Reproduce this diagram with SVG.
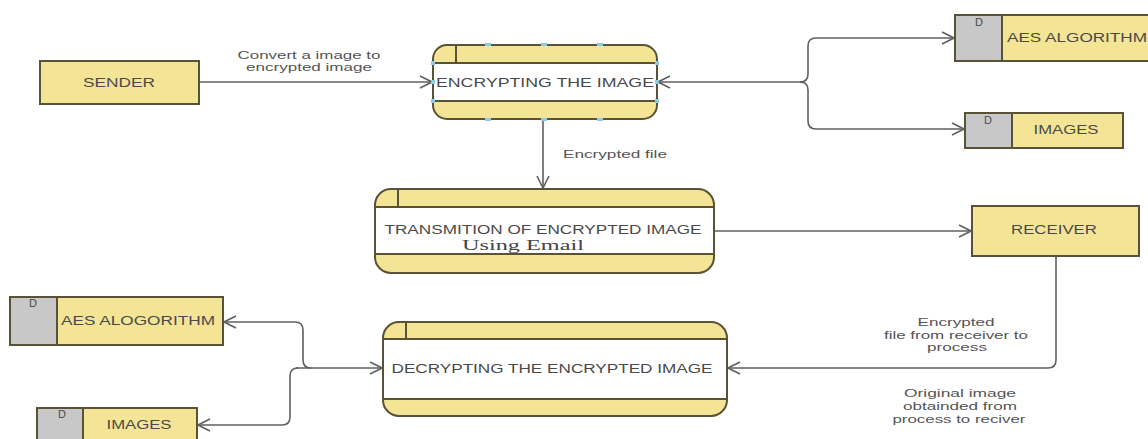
<svg xmlns="http://www.w3.org/2000/svg" width="1148" height="439" viewBox="0 0 1148 439">
<style>
.bg{fill:#ffffff}
.ent{fill:#F4E495;stroke:#5a5236;stroke-width:2}
.yel{fill:#F4E495;stroke:#5a5236;stroke-width:2}
.gry{fill:#C8C8C8;stroke:#5a5236;stroke-width:2}
.band{fill:#ffffff}
.ln{stroke:#5a5236;stroke-width:2;fill:none}
.t{font-family:"Liberation Sans",Arial,sans-serif;font-size:12px;fill:#4a4a4a;text-anchor:middle}
.lab{font-family:"Liberation Sans",Arial,sans-serif;font-size:11.5px;fill:#555555;text-anchor:middle}
.d{font-family:"Liberation Sans",Arial,sans-serif;font-size:11px;fill:#4a4a4a;text-anchor:middle}
.serif{font-family:"Liberation Serif","Times New Roman",serif;font-size:15px;fill:#444444;text-anchor:middle}
.con{stroke:#606060;stroke-width:1.6;fill:none}
.hdl{fill:#8ccbe6}
</style>
<defs>
<marker id="arr" markerUnits="userSpaceOnUse" markerWidth="14" markerHeight="14" viewBox="0 0 14 14" refX="13" refY="7" orient="auto">
<path d="M1,1 L13,7 L1,13" fill="none" stroke="#606060" stroke-width="1.6"/>
</marker>
</defs>
<rect class="bg" x="0" y="0" width="1148" height="439"/>

<g id="connectors">
<path class="con" d="M199,82 H432" marker-end="url(#arr)"/>
<path class="con" d="M543,119 V188" marker-end="url(#arr)"/>
<path class="con" d="M714,231 H971" marker-end="url(#arr)"/>
<path class="con" d="M1056,257 V360 Q1056,368 1048,368 H728" marker-start="url(#arr)" marker-end="url(#arr)"/>
<path class="con" d="M801,82 H658" marker-end="url(#arr)"/>
<path class="con" d="M800,82 Q808,82 808,74 V46 Q808,38 816,38 H954" marker-end="url(#arr)"/>
<path class="con" d="M800,82 Q808,82 808,90 V121 Q808,129 816,129 H964" marker-end="url(#arr)"/>
<path class="con" d="M296,368 H382" marker-end="url(#arr)"/>
<path class="con" d="M311,368 Q303,368 303,360 V330 Q303,322 295,322 H224" marker-end="url(#arr)"/>
<path class="con" d="M298,368 Q290,368 290,376 V417 Q290,425 282,425 H198" marker-end="url(#arr)"/>
</g>

<g id="sender">
<rect class="yel" x="40" y="61" width="159" height="43"/>
<text class="t" x="119" y="87" textLength="72" lengthAdjust="spacingAndGlyphs">SENDER</text>
</g>

<g id="label-convert">
<text class="lab" x="309" y="59" textLength="143" lengthAdjust="spacingAndGlyphs">Convert a image to</text>
<text class="lab" x="309" y="71" textLength="126" lengthAdjust="spacingAndGlyphs">encrypted image</text>
</g>

<g id="encrypting">
<rect class="ent" x="433" y="45" width="224" height="74" rx="14"/>
<rect class="band" x="434" y="63" width="222" height="38"/>
<line class="ln" x1="433" y1="63" x2="657" y2="63"/>
<line class="ln" x1="433" y1="101" x2="657" y2="101"/>
<line class="ln" x1="456" y1="46" x2="456" y2="63"/>
<text class="t" x="545" y="87" font-size="13" textLength="218" lengthAdjust="spacingAndGlyphs">ENCRYPTING THE IMAGE</text>
<rect class="hdl" x="485" y="43" width="6" height="3"/>
<rect class="hdl" x="541" y="43" width="6" height="3"/>
<rect class="hdl" x="597" y="43" width="6" height="3"/>
<rect class="hdl" x="485" y="118" width="6" height="3"/>
<rect class="hdl" x="541" y="118" width="6" height="3"/>
<rect class="hdl" x="597" y="118" width="6" height="3"/>
<rect class="hdl" x="431" y="61" width="4" height="4"/>
<rect class="hdl" x="431" y="99" width="4" height="4"/>
<rect class="hdl" x="655" y="61" width="4" height="4"/>
<rect class="hdl" x="655" y="99" width="4" height="4"/>
<rect class="hdl" x="431" y="80" width="4" height="4"/>
<rect class="hdl" x="655" y="80" width="4" height="4"/>
</g>

<g id="label-encfile">
<text class="lab" x="615" y="158" textLength="104" lengthAdjust="spacingAndGlyphs">Encrypted file</text>
</g>

<g id="aes-top">
<rect class="yel" x="1002" y="15" width="160" height="46"/>
<rect class="gry" x="955" y="15" width="47" height="46"/>
<text class="d" x="979" y="26">D</text>
<text class="t" x="1077" y="42" textLength="140" lengthAdjust="spacingAndGlyphs">AES ALGORITHM</text>
</g>

<g id="images-top">
<rect class="yel" x="1012" y="113" width="111" height="35"/>
<rect class="gry" x="965" y="113" width="47" height="35"/>
<text class="d" x="988" y="124">D</text>
<text class="t" x="1066" y="134" textLength="65" lengthAdjust="spacingAndGlyphs">IMAGES</text>
</g>

<g id="transmission">
<rect class="ent" x="375" y="189" width="339" height="84" rx="16"/>
<rect class="band" x="376" y="207" width="337" height="47"/>
<line class="ln" x1="375" y1="207" x2="714" y2="207"/>
<line class="ln" x1="375" y1="254" x2="714" y2="254"/>
<line class="ln" x1="398" y1="190" x2="398" y2="207"/>
<text class="t" x="543" y="234" textLength="317" lengthAdjust="spacingAndGlyphs">TRANSMITION OF ENCRYPTED IMAGE</text>
<text class="serif" x="523" y="250" textLength="122" lengthAdjust="spacingAndGlyphs">Using Email</text>
</g>

<g id="receiver">
<rect class="yel" x="972" y="206" width="167" height="50"/>
<text class="t" x="1054" y="234" textLength="86" lengthAdjust="spacingAndGlyphs">RECEIVER</text>
</g>

<g id="aes-bottom">
<rect class="yel" x="57" y="297" width="166" height="48"/>
<rect class="gry" x="10" y="297" width="47" height="48"/>
<text class="d" x="33" y="307">D</text>
<text class="t" x="138" y="325" textLength="154" lengthAdjust="spacingAndGlyphs">AES ALOGORITHM</text>
</g>

<g id="images-bottom">
<rect class="yel" x="83" y="408" width="114" height="40"/>
<rect class="gry" x="37" y="408" width="46" height="40"/>
<text class="d" x="62" y="418">D</text>
<text class="t" x="139" y="429" textLength="65" lengthAdjust="spacingAndGlyphs">IMAGES</text>
</g>

<g id="decrypting">
<rect class="ent" x="383" y="322" width="344" height="94" rx="16"/>
<rect class="band" x="384" y="339" width="342" height="60"/>
<line class="ln" x1="383" y1="339" x2="727" y2="339"/>
<line class="ln" x1="383" y1="399" x2="727" y2="399"/>
<line class="ln" x1="406" y1="323" x2="406" y2="339"/>
<text class="t" x="552" y="373" textLength="321" lengthAdjust="spacingAndGlyphs">DECRYPTING THE ENCRYPTED IMAGE</text>
</g>

<g id="label-encrypted-receiver">
<text class="lab" x="956" y="326" textLength="77" lengthAdjust="spacingAndGlyphs">Encrypted</text>
<text class="lab" x="956" y="339" textLength="144" lengthAdjust="spacingAndGlyphs">file from receiver to</text>
<text class="lab" x="957" y="351" textLength="60" lengthAdjust="spacingAndGlyphs">process</text>
</g>

<g id="label-original">
<text class="lab" x="960" y="397" textLength="112" lengthAdjust="spacingAndGlyphs">Original image</text>
<text class="lab" x="960" y="410" textLength="114" lengthAdjust="spacingAndGlyphs">obtainded from</text>
<text class="lab" x="959" y="423" textLength="133" lengthAdjust="spacingAndGlyphs">process to reciver</text>
</g>
</svg>
